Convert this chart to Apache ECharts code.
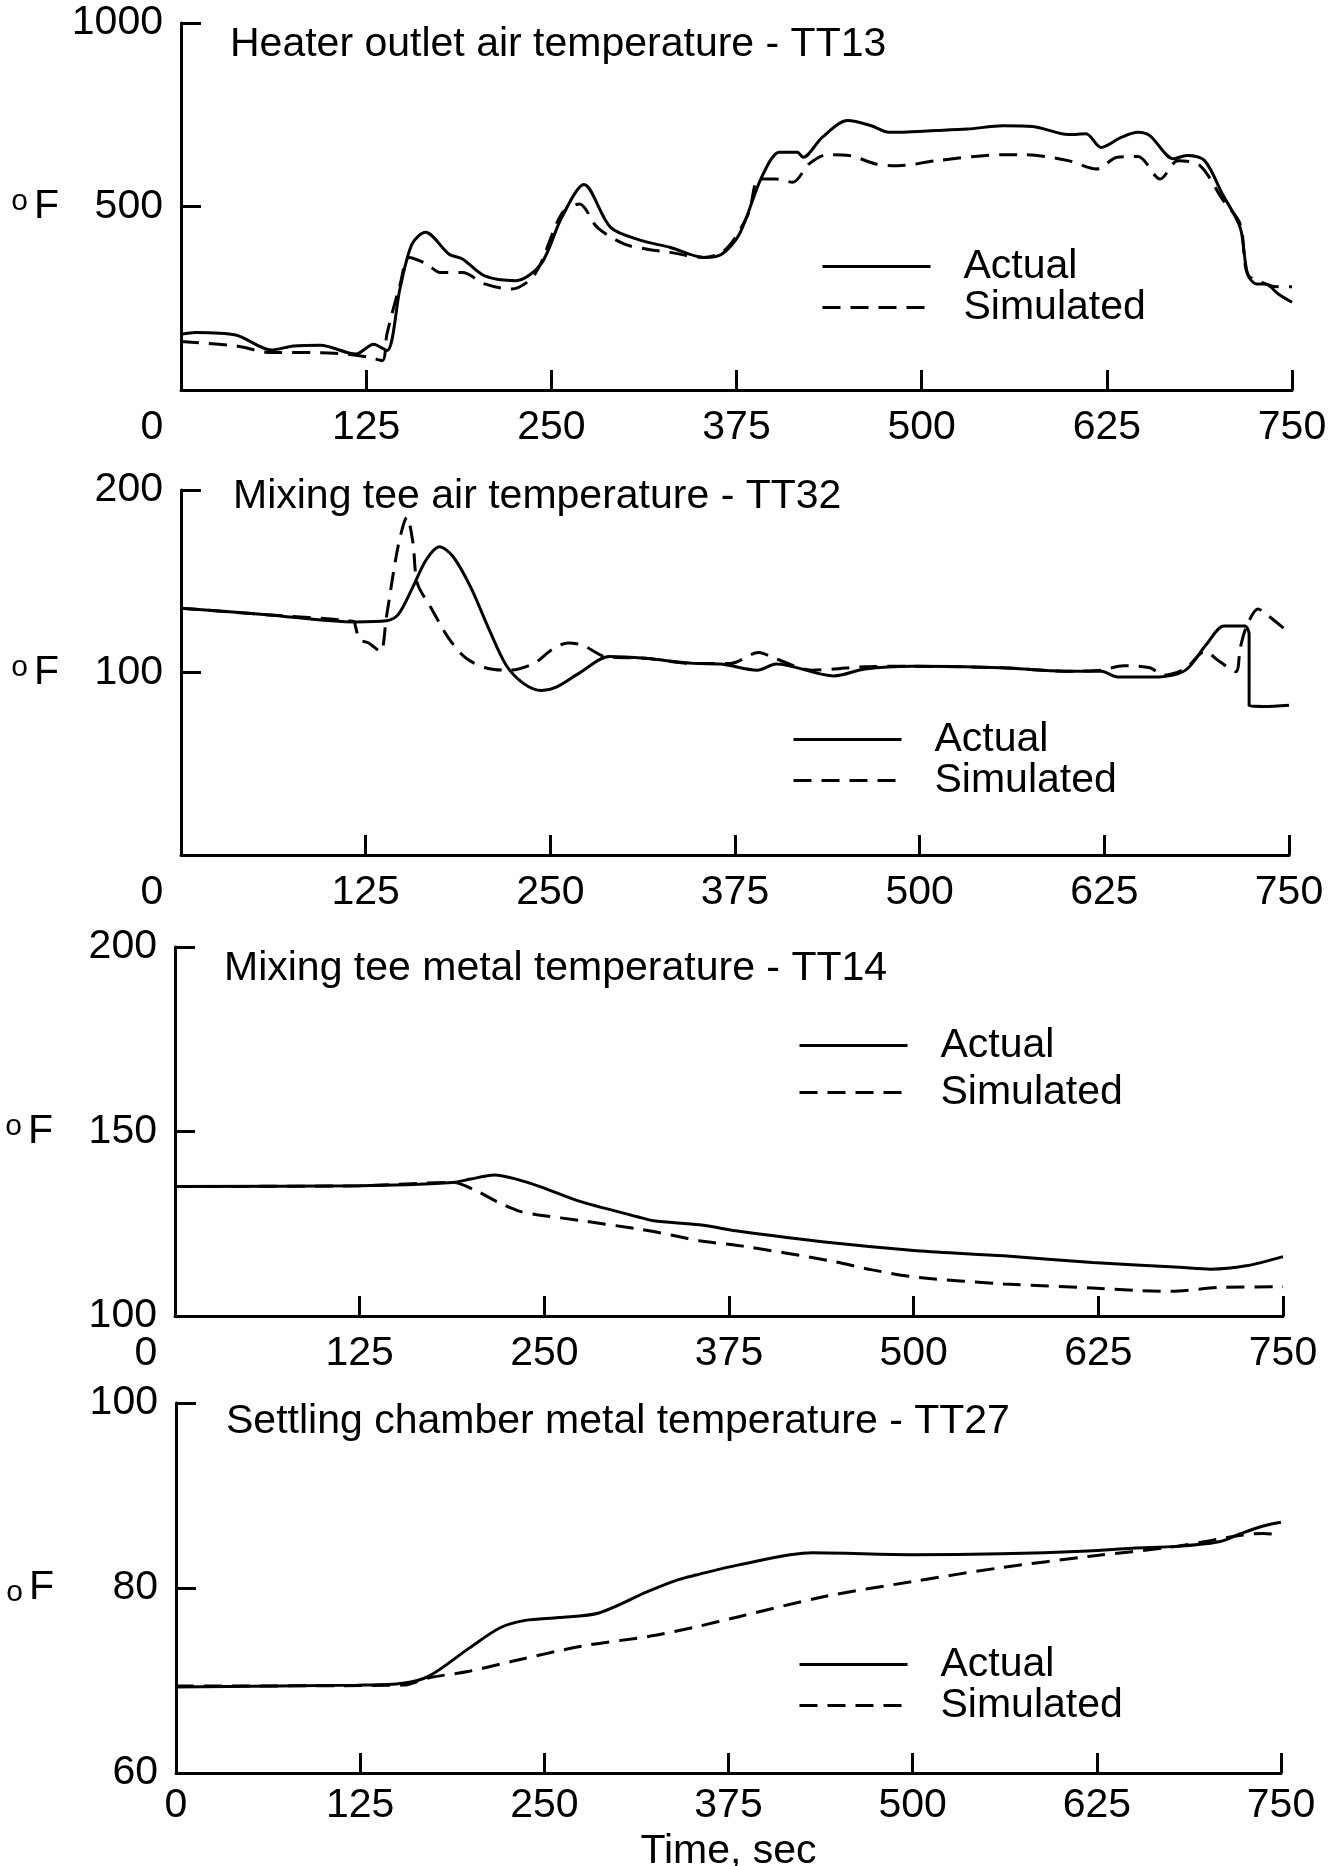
<!DOCTYPE html>
<html><head><meta charset="utf-8">
<script src="https://cdn.jsdelivr.net/npm/echarts@6/dist/echarts.min.js"></script>
<style>html,body{margin:0;padding:0;background:#fff}#c{width:1338px;height:1866px}</style>
</head><body><div id="c"></div>
<script>
// ---- data ----
const xTicks = [0, 125, 250, 375, 500, 625, 750];
const seriesNames = ['Actual', 'Simulated'];
const panelTitles = [
  'Heater outlet air temperature - TT13',
  'Mixing tee air temperature - TT32',
  'Mixing tee metal temperature - TT14',
  'Settling chamber metal temperature - TT27'
];
const yMin = [0, 0, 100, 60];
const yMax = [1000, 200, 200, 100];
const yStep = [500, 100, 50, 20];
const xAxisName = 'Time, sec';
const unitLabel = 'F';

const tt13Actual = [[0,152],[10,157],[37,150],[61,109],[76,120],[94,122],[118,98],[130,125],[139,107],[148,280],[156,398],[165,430],[181,370],[190,357],[205,311],[226,298],[243,343],[257,470],[272,560],[290,443],[311,407],[330,389],[353,361],[365,370],[377,425],[392,580],[404,648],[416,648],[420,634],[433,689],[450,734],[466,720],[478,702],[510,707],[531,711],[555,720],[575,718],[599,696],[611,698],[621,661],[635,689],[646,702],[654,693],[670,630],[679,639],[691,625],[703,534],[715,443],[720,316],[726,289],[732,289],[741,261],[750,239]];
const tt13Simulated = [[0,132],[37,120],[61,102],[88,102],[112,98],[127,89],[136,80],[139,152],[148,289],[154,361],[166,343],[175,320],[190,320],[205,289],[223,275],[239,316],[257,480],[269,507],[281,443],[299,398],[314,384],[330,375],[353,361],[368,384],[383,480],[390,575],[401,575],[413,566],[424,616],[436,641],[451,639],[469,616],[484,611],[510,625],[555,641],[570,641],[599,625],[618,602],[632,634],[646,636],[661,575],[673,625],[688,611],[703,520],[715,452],[720,316],[732,289],[741,281],[750,281]];

const tt32Actual = [[0,135.2],[58,131.7],[118,127.7],[139,128.3],[147,131.7],[157,146.9],[166,161.8],[175,168.9],[184,163.7],[196,146.9],[208,124.6],[220,104.1],[232,93.9],[244,90.1],[254,92],[269,99.4],[290,108.8],[314,107.8],[347,105],[365,104.7],[390,101.3],[403,104.7],[442,98.1],[463,101.9],[495,103.4],[555,102.6],[599,100.7],[623,100.7],[634,97.6],[662,97.6],[680,101.3],[694,115.3],[706,125.5],[720,125.5],[723,120.9],[723,81.8],[733,81.4],[750,82.1]];
const tt32Simulated = [[0,135.2],[58,131.7],[117,128],[118,125.5],[121,118],[127,116.2],[135,111.5],[139,130.2],[147,169.3],[153,185.1],[157,171.1],[160,148.8],[169,135.8],[181,119],[193,107.8],[208,102.2],[223,101.3],[239,105],[251,112.5],[262,116.2],[272,114.9],[287,108.8],[314,107.8],[347,105],[372,105],[391,111],[403,107.4],[427,101.3],[442,101.9],[463,103.2],[495,103.4],[555,102.6],[599,100.7],[623,101.3],[638,103.7],[656,102.6],[665,98.5],[680,102.2],[693,111.5],[703,106],[714,100.4],[717,113.4],[721,124.6],[729,134.8],[736,131.1],[750,121.8]];

const tt14Actual = [[0,135.1],[125,135.3],[188,136.2],[200,137.1],[216,138.2],[231,137.1],[249,134.8],[273,131.2],[313,126.9],[324,125.8],[355,124.7],[383,122.9],[443,119.9],[502,117.7],[561,116.3],[621,114.5],[680,113.2],[701,112.7],[725,113.6],[750,116.1]];
const tt14Simulated = [[0,135.1],[125,135.3],[188,136.2],[204,133.9],[219,130.8],[234,128.3],[246,127.4],[276,125.8],[313,123.6],[324,122.9],[355,120.4],[383,119],[443,115],[472,112.5],[502,110.5],[561,108.7],[621,107.6],[651,106.9],[674,106.7],[710,107.8],[750,107.9]];

const tt27Actual = [[0,69.3],[123,69.5],[154,69.7],[172,70.5],[199,73.5],[220,75.7],[237,76.5],[260,76.8],[287,77.3],[320,79.6],[341,80.9],[353,81.4],[382,82.5],[432,83.8],[500,83.6],[560,83.7],[619,84],[649,84.3],[679,84.5],[708,85],[723,85.9],[738,86.7],[750,87.1]];
const tt27Simulated = [[0,69.4],[154,69.5],[172,70.3],[199,71],[229,72.1],[275,73.7],[322,74.8],[353,75.8],[382,76.9],[441,79.1],[500,80.7],[560,82.2],[619,83.4],[679,84.5],[723,85.7],[738,85.9],[750,85.7]];

const panelData = [
  [tt13Actual, tt13Simulated],
  [tt32Actual, tt32Simulated],
  [tt14Actual, tt14Simulated],
  [tt27Actual, tt27Simulated]
];

// ---- layout / style ----
const FONT = '"Liberation Sans", Arial, Helvetica, sans-serif';
const BLACK = '#000';
const FS = 41;
const grids = [
  {left: 181, top: 23, width: 1111, height: 367},
  {left: 181, top: 490, width: 1108, height: 365},
  {left: 175, top: 947, width: 1108, height: 369},
  {left: 176, top: 1403, width: 1105, height: 370}
];
const titlePos = [[225, 19], [228, 471], [219, 943], [221, 1396]];
const legendPos = [[821, 246], [792, 719], [798, 1025], [798, 1644]];
const legendGap = [0, 0, 6, 0];
const xLabelMargin = [17, 17, 17, 12];
const zeroShift = [true, true, true, false];
const showYMin = [false, false, true, true];
const subscriptUnit = [false, false, false, true];

const option = {
  backgroundColor: '#fff',
  animation: false,
  textStyle: {fontFamily: FONT, color: BLACK},
  grid: grids.map(g => Object.assign({containLabel: false, outerBoundsMode: 'none'}, g)),
  title: panelTitles.map((t, i) => ({
    text: t, left: titlePos[i][0], top: titlePos[i][1],
    textStyle: {fontSize: FS, fontWeight: 'normal', color: BLACK, fontFamily: FONT}
  })),
  legend: legendPos.map((p, i) => ({
    data: seriesNames, orient: 'vertical', left: p[0], top: p[1], padding: 0,
    itemWidth: 108, itemHeight: 20, itemGap: legendGap[i], selectedMode: false,
    itemStyle: {color: 'rgba(0,0,0,0)', borderWidth: 0, opacity: 0},
    lineStyle: {width: 3, color: BLACK},
    formatter: n => '{t|' + n + '}',
    textStyle: {fontSize: FS, color: BLACK, fontFamily: FONT,
      rich: {t: {fontSize: FS, color: BLACK, fontFamily: FONT, padding: [0, 0, 0, 28], lineHeight: 40}}}
  })),
  xAxis: grids.map((g, i) => ({
    type: 'value', gridIndex: i, min: xTicks[0], max: xTicks[xTicks.length - 1],
    interval: xTicks[1] - xTicks[0],
    axisLine: {show: true, lineStyle: {color: BLACK, width: 3}},
    axisTick: {show: true, inside: true, length: 20, lineStyle: {color: BLACK, width: 3}},
    splitLine: {show: false},
    axisLabel: {
      color: BLACK, fontSize: FS, fontFamily: FONT, margin: xLabelMargin[i],
      formatter: v => (v === 0 && zeroShift[i]) ? '{z|0}' : String(v),
      rich: {z: {fontSize: FS, fontFamily: FONT, color: BLACK, padding: [0, 58, 0, 0]}}
    },
    name: i === 3 ? xAxisName : '', nameLocation: 'middle', nameGap: 58,
    nameTextStyle: {fontSize: FS, color: BLACK, fontFamily: FONT}
  })),
  yAxis: grids.map((g, i) => ({
    type: 'value', gridIndex: i, min: yMin[i], max: yMax[i], interval: yStep[i],
    axisLine: {show: true, lineStyle: {color: BLACK, width: 3}},
    axisTick: {show: true, inside: true, length: 20, lineStyle: {color: BLACK, width: 3}},
    splitLine: {show: false},
    axisLabel: {color: BLACK, fontSize: FS, fontFamily: FONT, margin: 18, showMinLabel: showYMin[i],
      formatter: v => String(v)},
    name: (subscriptUnit[i] ? '{b|o}' : '{s|o}') + '{f|' + unitLabel + '}',
    nameLocation: 'middle', nameRotate: 0, nameGap: 122,
    nameTextStyle: {
      fontFamily: FONT, color: BLACK,
      rich: {
        s: {fontSize: 30, lineHeight: 26, verticalAlign: 'top', fontFamily: FONT, color: BLACK, padding: [0, 6, 0, 0]},
        b: {fontSize: 30, lineHeight: 2, verticalAlign: 'bottom', fontFamily: FONT, color: BLACK, padding: [0, 6, 0, 0]},
        f: {fontSize: FS, lineHeight: 40, fontFamily: FONT, color: BLACK}
      }
    }
  })),
  series: []
};

panelData.forEach((pair, i) => {
  pair.forEach((d, k) => {
    option.series.push({
      name: seriesNames[k], type: 'line', xAxisIndex: i, yAxisIndex: i,
      data: d, symbol: 'none', showSymbol: false, smooth: 0.3,
      lineStyle: {color: BLACK, width: 3, type: k === 0 ? 'solid' : [18, 10]},
      itemStyle: {color: BLACK}
    });
  });
});

const chart = echarts.init(document.getElementById('c'), null, {renderer: 'canvas'});
chart.setOption(option);
</script>
</body></html>
